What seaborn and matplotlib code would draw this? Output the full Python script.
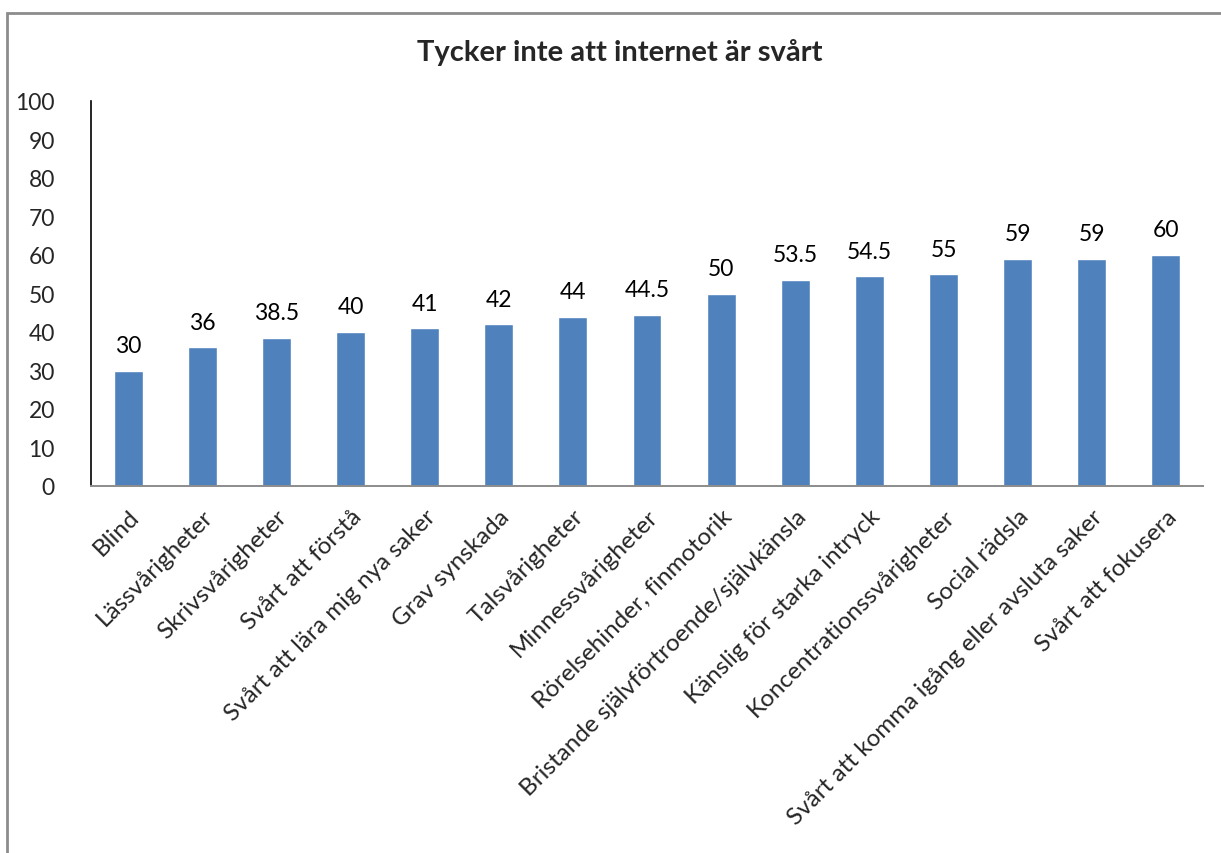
import matplotlib
matplotlib.use("Agg")
import matplotlib.pyplot as plt
from matplotlib.patches import Rectangle
import seaborn as sns
import pandas as pd

categories = [
    "Blind",
    "Lässvårigheter",
    "Skrivsvårigheter",
    "Svårt att förstå",
    "Svårt att lära mig nya saker",
    "Grav synskada",
    "Talsvårigheter",
    "Minnessvårigheter",
    "Rörelsehinder, finmotorik",
    "Bristande självförtroende/självkänsla",
    "Känslig för starka intryck",
    "Koncentrationssvårigheter",
    "Social rädsla",
    "Svårt att komma igång eller avsluta saker",
    "Svårt att fokusera",
]
values = [30, 36, 38.5, 40, 41, 42, 44, 44.5, 50, 53.5, 54.5, 55, 59, 59, 60]
value_labels = ["30", "36", "38.5", "40", "41", "42", "44", "44.5", "50",
                "53.5", "54.5", "55", "59", "59", "60"]
y_ticks = [0, 10, 20, 30, 40, 50, 60, 70, 80, 90, 100]
title = "Tycker inte att internet är svårt"

df = pd.DataFrame({"kategori": categories, "andel": values})

sns.set_theme(style="white")
plt.rcParams["font.family"] = ["Lato", "DejaVu Sans"]

W, H = 1221, 854
fig = plt.figure(figsize=(W / 100, H / 100), dpi=100)
ax = fig.add_axes([91 / W, 1 - 487 / H, (1203 - 91) / W, (487 - 102) / H])

sns.barplot(data=df, x="kategori", y="andel", color="#4F81BD", saturation=1,
            width=0.39, ax=ax)

for i, (v, lab) in enumerate(zip(values, value_labels)):
    ax.text(i, v + 3.8, lab, ha="center", va="bottom", fontsize=16.5, color="black")

ax.set_ylim(0, 100)
ax.set_xlim(-0.5, len(categories) - 0.5)
ax.set_yticks(y_ticks)
ax.set_yticklabels([str(t) for t in y_ticks], fontsize=16.5)
ax.set_xticks(range(len(categories)))
ax.set_xticklabels(categories, rotation=45, ha="right", va="top",
                   rotation_mode="anchor", fontsize=17.5)
ax.tick_params(axis="y", length=0, pad=26)
ax.tick_params(axis="x", length=0, pad=14)
ax.set_xlabel("")
ax.set_ylabel("")

for s in ["top", "right"]:
    ax.spines[s].set_visible(False)
ax.spines["left"].set_color("black")
ax.spines["left"].set_linewidth(1.2)
ax.spines["bottom"].set_color("#8C8C8C")
ax.spines["bottom"].set_linewidth(1.4)

fig.text(620 / W, 1 - 52 / H, title, ha="center", va="center",
         fontsize=21, fontweight="bold")

# outer chart frame
fig.patches.append(Rectangle((7 / W, -0.05), 1.1, 1 - 14 / H + 0.05,
                             transform=fig.transFigure, fill=False,
                             edgecolor="#8C8C8C", linewidth=2))

fig.savefig("out.png", dpi=100, facecolor="white")
